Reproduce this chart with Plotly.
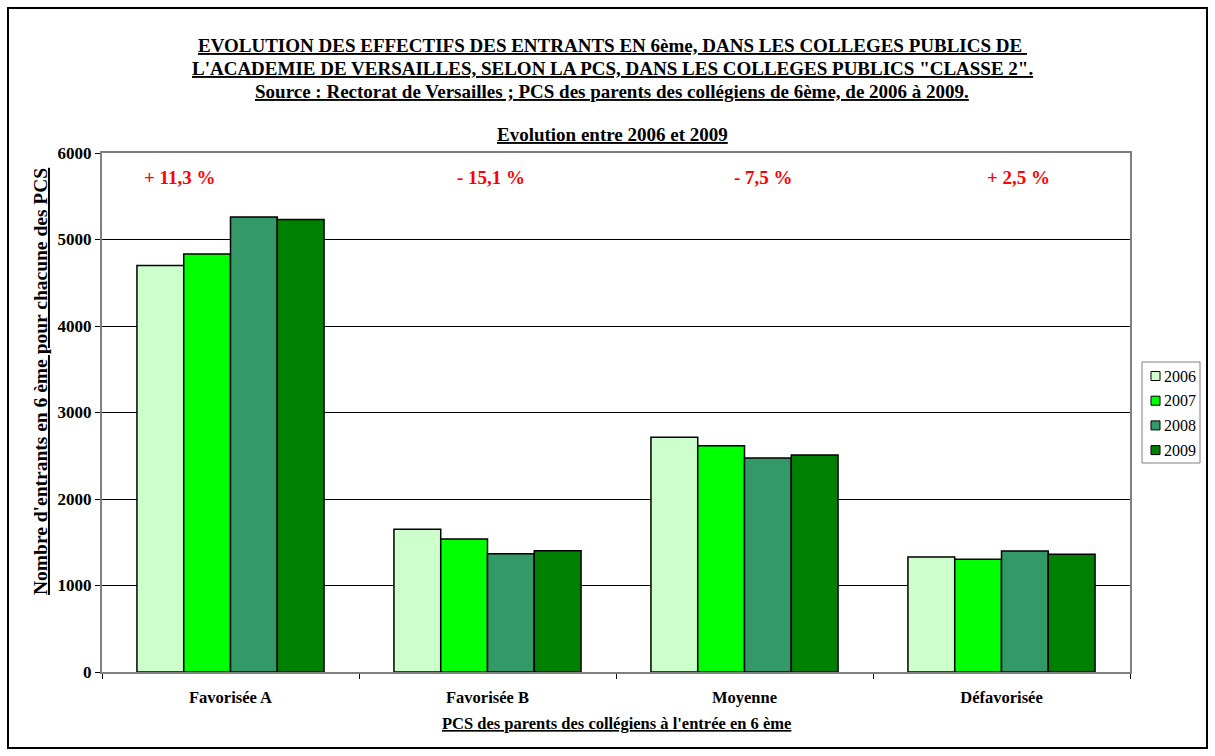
import plotly.graph_objects as go

categories = ["Favorisée A", "Favorisée B", "Moyenne", "Défavorisée"]
years = ["2006", "2007", "2008", "2009"]
values_2006 = [4700, 1650, 2713, 1329]
values_2007 = [4832, 1538, 2616, 1303]
values_2008 = [5260, 1368, 2474, 1399]
values_2009 = [5231, 1401, 2510, 1362]
evolution = ["+ 11,3 %", "- 15,1 %", "- 7,5 %", "+ 2,5 %"]
colors = ["#CCFFCC", "#00FF00", "#339966", "#008000"]

series = [values_2006, values_2007, values_2008, values_2009]
FONT = "Liberation Serif, Times New Roman, serif"

fig = go.Figure()
for year, vals, col in zip(years, series, colors):
    fig.add_trace(go.Bar(x=categories, y=vals, name=year, showlegend=False,
                         marker=dict(color=col, line=dict(color="black", width=1.5))))

# plot area in px: x 102..1130, y 153..672
L, R, T, B = 102, 1130, 153, 672
W, H = R - L, B - T
def px_x(p): return (p - L) / W
def px_y(p): return (B - p) / H

def label(text, x, y, size, color="black", **kw):
    fig.add_annotation(text=text, xref="paper", yref="paper", x=px_x(x), y=px_y(y),
                       xanchor=kw.pop("xanchor", "center"), yanchor="middle",
                       showarrow=False, font=dict(family=FONT, size=size, color=color), **kw)

title_lines = [
    "EVOLUTION DES EFFECTIFS DES ENTRANTS EN 6ème, DANS LES COLLEGES PUBLICS DE ",
    "L'ACADEMIE DE VERSAILLES, SELON LA PCS, DANS LES COLLEGES PUBLICS \"CLASSE 2\".",
    "Source : Rectorat de Versailles ; PCS des parents des collégiens de 6ème, de 2006 à 2009.",
]
for i, line in enumerate(title_lines):
    label("<b><u>%s</u></b>" % line, 612, 45 + i * 23, 19)
label("<b><u>Evolution entre 2006 et 2009</u></b>", 612, 134, 19)

evo_x = [180, 491, 763, 1018]
for txt, xp in zip(evolution, evo_x):
    label("<b>%s</b>" % txt, xp, 177, 19, color="#FF0000")

# axis titles
label("<b><u>Nombre d'entrants en 6 ème pour chacune des PCS</u></b>", 40, 382, 19.5,
      textangle=-90)
label("<b><u>PCS des parents des collégiens à l'entrée en 6 ème</u></b>", 616, 723, 16.5)

# legend box
fig.add_shape(type="rect", xref="paper", yref="paper",
              x0=px_x(1142), x1=px_x(1200), y0=px_y(463), y1=px_y(362),
              line=dict(color="#808080", width=1), fillcolor="white")
for i, (year, col) in enumerate(zip(years, colors)):
    yc = 376 + i * 24.7
    fig.add_shape(type="rect", xref="paper", yref="paper",
                  x0=px_x(1151), x1=px_x(1160), y0=px_y(yc + 4.5), y1=px_y(yc - 4.5),
                  line=dict(color="black", width=1), fillcolor=col)
    label(year, 1162, yc, 16, xanchor="left")

# outer frame
fig.add_shape(type="rect", xref="paper", yref="paper",
              x0=px_x(8), x1=px_x(1207), y0=px_y(748), y1=px_y(8),
              line=dict(color="black", width=2))

fig.update_layout(
    width=1215, height=756,
    margin=dict(l=L, r=1215 - R, t=T, b=756 - B, pad=0),
    paper_bgcolor="white", plot_bgcolor="white",
    barmode="group", bargap=0.272, bargroupgap=0,
    font=dict(family=FONT, size=16, color="black"),
)
fig.update_xaxes(showline=True, linecolor="#808080", linewidth=2, mirror=True,
                 ticks="outside", tickson="boundaries", ticklen=5, tickcolor="black",
                 tickfont=dict(family=FONT, size=16.5), ticklabelstandoff=9,
                 tickvals=categories, ticktext=["<b>%s</b>" % c for c in categories])
fig.update_yaxes(range=[0, 6000], showline=True, linecolor="#808080", linewidth=2,
                 mirror=True, showgrid=True, gridcolor="black", gridwidth=1,
                 ticks="outside", ticklen=5, tickcolor="black",
                 tickvals=[0, 1000, 2000, 3000, 4000, 5000, 6000],
                 ticktext=["<b>%d</b>" % v for v in range(0, 7000, 1000)],
                 tickfont=dict(family=FONT, size=17))

fig.write_html("out.html", config={"displayModeBar": False},
               post_script="document.body.style.margin='0';")
